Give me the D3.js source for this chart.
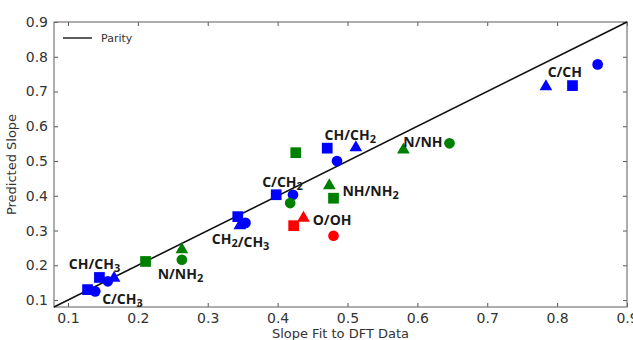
<!DOCTYPE html>
<html>
<head>
<meta charset="utf-8">
<script src="https://cdn.jsdelivr.net/npm/d3@7"></script>
<style>
  html, body { margin: 0; padding: 0; background: #fff; }
  svg { display: block; }
</style>
</head>
<body>
<svg id="chart" width="633" height="340"></svg>
<script>
// Ticks
const xTicks = [0.1, 0.2, 0.3, 0.4, 0.5, 0.6, 0.7, 0.8, 0.9];
const yTicks = [0.1, 0.2, 0.3, 0.4, 0.5, 0.6, 0.7, 0.8, 0.9];

// Blue points (carbon species)
const blueSquareX = [0.128, 0.145, 0.343, 0.398, 0.471, 0.822];
const blueSquareY = [0.130, 0.165, 0.340, 0.403, 0.537, 0.717];
const blueCircleX = [0.139, 0.157, 0.354, 0.422, 0.485, 0.858];
const blueCircleY = [0.125, 0.154, 0.322, 0.403, 0.500, 0.778];
const blueTriangleX = [0.166, 0.346, 0.512, 0.784];
const blueTriangleY = [0.163, 0.314, 0.539, 0.714];

// Green points (nitrogen species)
const greenSquareX = [0.211, 0.426, 0.480];
const greenSquareY = [0.211, 0.524, 0.393];
const greenCircleX = [0.263, 0.418, 0.646];
const greenCircleY = [0.216, 0.379, 0.551];
const greenTriangleX = [0.263, 0.474, 0.580];
const greenTriangleY = [0.245, 0.429, 0.532];

// Red points (oxygen species)
const redSquareX = [0.423];
const redSquareY = [0.314];
const redCircleX = [0.480];
const redCircleY = [0.285];
const redTriangleX = [0.437];
const redTriangleY = [0.336];

// Annotation labels: [main, sub] pieces, and where they sit in data units
const labelParts = [
  [['C/CH', '']],
  [['CH/CH', '2']],
  [['N/NH', '']],
  [['C/CH', '2']],
  [['NH/NH', '2']],
  [['O/OH', '']],
  [['CH', '2'], ['/CH', '3']],
  [['N/NH', '2']],
  [['CH/CH', '3']],
  [['C/CH', '3']]
];
const labelX = [0.811, 0.504, 0.608, 0.407, 0.533, 0.478, 0.347, 0.261, 0.138, 0.178];
const labelY = [0.756, 0.575, 0.555, 0.440, 0.415, 0.329, 0.276, 0.176, 0.204, 0.104];

const margin = { top: 22, right: 6, bottom: 33, left: 54 };
const width = 633 - margin.left - margin.right;
const height = 340 - margin.top - margin.bottom;

const svg = d3.select('#chart');
const g = svg.append('g')
  .attr('transform', `translate(${margin.left},${margin.top})`);

const x = d3.scaleLinear().domain([0.08, 0.9]).range([0, width]);
const y = d3.scaleLinear().domain([0.08, 0.9]).range([height, 0]);

const tickFont = '"DejaVu Sans", sans-serif';
const tickColor = '#333';

// Axes: ticks inside on all four sides, matplotlib style
const fmt = d3.format('.1f');
const axisBottomG = g.append('g').attr('transform', `translate(0,${height})`)
  .call(d3.axisBottom(x).tickValues(xTicks).tickFormat(fmt).tickSizeInner(-4).tickSizeOuter(0).tickPadding(6));
const axisLeftG = g.append('g')
  .call(d3.axisLeft(y).tickValues(yTicks).tickFormat(fmt).tickSizeInner(-4).tickSizeOuter(0).tickPadding(6));
const axisTopG = g.append('g')
  .call(d3.axisTop(x).tickValues(xTicks).tickFormat('').tickSizeInner(-4).tickSizeOuter(0));
const axisRightG = g.append('g').attr('transform', `translate(${width},0)`)
  .call(d3.axisRight(y).tickValues(yTicks).tickFormat('').tickSizeInner(-4).tickSizeOuter(0));

[axisBottomG, axisLeftG, axisTopG, axisRightG].forEach(a => {
  a.select('.domain').remove();
  a.selectAll('line').attr('stroke', '#555');
  a.selectAll('text')
    .attr('fill', tickColor)
    .style('font-family', tickFont)
    .style('font-size', '14px');
});

// Frame
g.append('rect')
  .attr('width', width)
  .attr('height', height)
  .attr('fill', 'none')
  .attr('stroke', '#777')
  .attr('stroke-width', 1.2);

// Parity line
const parity = x.domain();
g.append('line')
  .attr('x1', x(parity[0])).attr('y1', y(parity[0]))
  .attr('x2', x(parity[1])).attr('y2', y(parity[1]))
  .attr('stroke', '#111')
  .attr('stroke-width', 1.6);

// Markers
const series = [
  { xs: blueSquareX, ys: blueSquareY, shape: d3.symbolSquare, color: '#0000ff' },
  { xs: blueCircleX, ys: blueCircleY, shape: d3.symbolCircle, color: '#0000ff' },
  { xs: blueTriangleX, ys: blueTriangleY, shape: d3.symbolTriangle, color: '#0000ff' },
  { xs: greenSquareX, ys: greenSquareY, shape: d3.symbolSquare, color: '#008000' },
  { xs: greenCircleX, ys: greenCircleY, shape: d3.symbolCircle, color: '#008000' },
  { xs: greenTriangleX, ys: greenTriangleY, shape: d3.symbolTriangle, color: '#008000' },
  { xs: redSquareX, ys: redSquareY, shape: d3.symbolSquare, color: '#ff0000' },
  { xs: redCircleX, ys: redCircleY, shape: d3.symbolCircle, color: '#ff0000' },
  { xs: redTriangleX, ys: redTriangleY, shape: d3.symbolTriangle, color: '#ff0000' }
];
const sizes = new Map([[d3.symbolSquare, 115], [d3.symbolCircle, 90], [d3.symbolTriangle, 70]]);

series.forEach(s => {
  const pts = s.xs.map((v, i) => [v, s.ys[i]]);
  g.selectAll(null)
    .data(pts)
    .join('path')
    .attr('transform', d => `translate(${x(d[0])},${y(d[1])})`)
    .attr('d', d3.symbol().type(s.shape).size(sizes.get(s.shape)))
    .attr('fill', s.color);
});

// Point labels
labelParts.forEach((parts, i) => {
  const t = g.append('text')
    .attr('x', x(labelX[i]))
    .attr('y', y(labelY[i]) + 5)
    .attr('text-anchor', 'middle')
    .attr('fill', '#1a1a1a')
    .style('font-family', '"Open Sans", sans-serif')
    .style('font-weight', '700')
    .style('font-size', '14px');
  parts.forEach(([main, sub]) => {
    t.append('tspan').attr('dy', 0).text(main);
    if (sub) {
      t.append('tspan').attr('dy', 3).style('font-size', '11px').text(sub);
      t.append('tspan').attr('dy', -3).text('');
    }
  });
});

// Legend
g.append('line')
  .attr('x1', 9).attr('x2', 38)
  .attr('y1', 16).attr('y2', 16)
  .attr('stroke', '#333')
  .attr('stroke-width', 1.6);
g.append('text')
  .attr('x', 47).attr('y', 20)
  .attr('fill', tickColor)
  .style('font-family', tickFont)
  .style('font-size', '11px')
  .text('Parity');

// Axis titles
svg.append('text')
  .attr('x', margin.left + width / 2)
  .attr('y', 338)
  .attr('text-anchor', 'middle')
  .attr('fill', tickColor)
  .style('font-family', tickFont)
  .style('font-size', '13px')
  .text('Slope Fit to DFT Data');

svg.append('text')
  .attr('transform', `translate(16,${margin.top + height / 2}) rotate(-90)`)
  .attr('text-anchor', 'middle')
  .attr('fill', tickColor)
  .style('font-family', tickFont)
  .style('font-size', '13px')
  .text('Predicted Slope');
</script>
</body>
</html>
